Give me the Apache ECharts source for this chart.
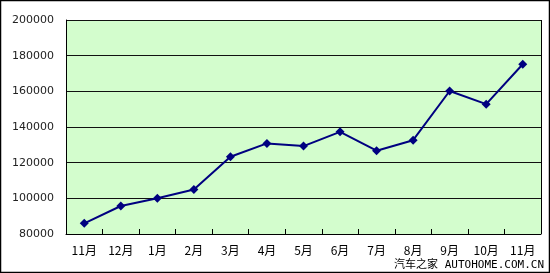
<!DOCTYPE html>
<html><head><meta charset="utf-8">
<script src="https://cdn.jsdelivr.net/npm/echarts@6/dist/echarts.min.js"></script>
<style>html,body{margin:0;padding:0;background:#fff}#c{width:550px;height:273px}</style>
</head><body><div id="c"></div>
<script>
const categories = ['11月','12月','1月','2月','3月','4月','5月','6月','7月','8月','9月','10月','11月'];
const values = [86000,95700,100000,105000,123300,130800,129300,137300,126700,132600,160200,152800,175200];
const yTicks = [80000,100000,120000,140000,160000,180000,200000];
const watermark = '汽车之家 AUTOHOME.COM.CN';

const chart = echarts.init(document.getElementById('c'));
chart.setOption({
  animation:false,
  backgroundColor:'#fff',
  grid:{left:66,right:9,top:20,bottom:39,show:true,backgroundColor:'#D3FDCD',borderColor:'#000',borderWidth:0},
  xAxis:{type:'category',data:categories,boundaryGap:true,
    axisLine:{lineStyle:{color:'#000',width:1}},
    axisTick:{show:true,inside:true,length:5,alignWithLabel:false,lineStyle:{color:'#000',width:1}},
    axisLabel:{color:'#000',fontFamily:'"Noto Sans CJK SC",sans-serif',fontSize:12,margin:10,interval:0}},
  yAxis:{type:'value',min:yTicks[0],max:yTicks[yTicks.length-1],interval:20000,
    axisLine:{show:true,lineStyle:{color:'#000'}},
    axisTick:{show:false},
    splitLine:{lineStyle:{color:'#111',width:1}},
    axisLabel:{color:'#222',fontFamily:'"DejaVu Sans",sans-serif',fontSize:11,margin:12,formatter:v=>String(v)}},
  series:[{type:'line',data:values,symbol:'diamond',symbolSize:9,z:5,
    lineStyle:{color:'#000080',width:2},itemStyle:{color:'#000080'}}],
  graphic:[
    {type:'line',z:10,shape:{x1:541.5,y1:20,x2:541.5,y2:234},style:{stroke:'#000',lineWidth:1}},
    {type:'rect',shape:{x:0.5,y:0.5,width:549,height:272},style:{stroke:'#000',lineWidth:1.5,fill:null}},
    {type:'text',right:6,bottom:2,style:{text:watermark,fill:'#000',font:'11px "DejaVu Sans Mono", "Noto Sans CJK SC", monospace'}}
  ]
});
</script></body></html>
